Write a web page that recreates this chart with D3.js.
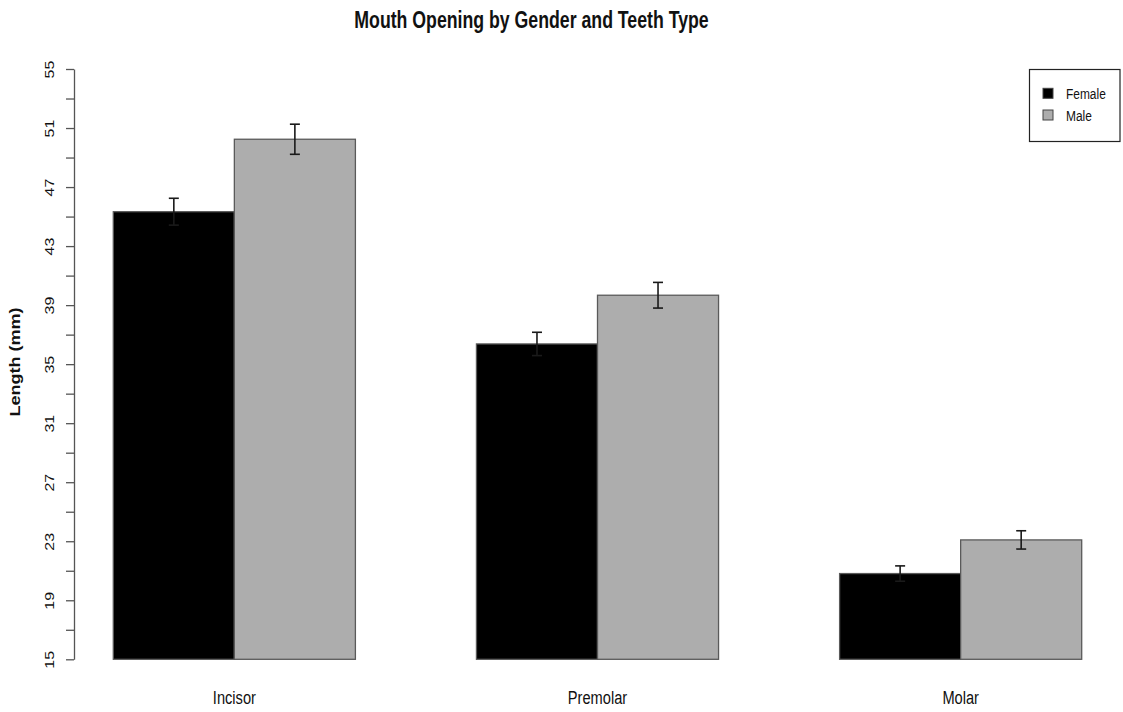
<!DOCTYPE html>
<html>
<head>
<meta charset="utf-8">
<script src="https://cdn.jsdelivr.net/npm/d3@7"></script>
<style>
  html, body { margin: 0; padding: 0; background: #fff; }
  svg { display: block; font-family: "Liberation Sans", Arial, sans-serif; }
</style>
</head>
<body>
<svg id="chart" width="1123" height="712"></svg>
<script>
// Mean mouth opening (mm) with standard errors, by teeth type and gender
const categories = ["Incisor", "Premolar", "Molar"];
const groups = ["Female", "Male"];
const femaleMeans = [45.33, 36.37, 20.81];
const femaleSE = [0.91, 0.79, 0.52];
const maleMeans = [50.24, 39.67, 23.09];
const maleSE = [1.02, 0.87, 0.62];
const yTickValues = d3.range(15, 56, 2);
const yTickLabels = yTickValues.map(v => (v - 15) % 4 === 0 ? String(v) : "");

const groupFill = { Female: "#000000", Male: "#adadad" };
const narrow = 0.77; // horizontal squeeze applied to all text

const svg = d3.select("#chart");

// Bars laid out like R's barplot(beside = TRUE): one bar-width gap before each group
const x = d3.scaleLinear().domain([1, 9]).range([113.3, 1081.7]);
const y = d3.scaleLinear().domain([15, 55]).range([659.3, 69]);

const bars = [];
categories.forEach((c, i) => {
  const left = 1 + i * 3;
  bars.push({ cat: c, g: "Female", x0: left, v: femaleMeans[i], se: femaleSE[i] });
  bars.push({ cat: c, g: "Male", x0: left + 1, v: maleMeans[i], se: maleSE[i] });
});

svg.append("g").selectAll("rect").data(bars).join("rect")
  .attr("x", d => x(d.x0))
  .attr("width", d => x(d.x0 + 1) - x(d.x0))
  .attr("y", d => y(d.v))
  .attr("height", d => y(15) - y(d.v))
  .attr("fill", d => groupFill[d.g])
  .attr("stroke", "#5a5a5a")
  .attr("stroke-width", 1.3);

// Error bars (mean ± SE)
const eb = svg.append("g").attr("stroke", "#1a1a1a").attr("stroke-width", 1.6);
bars.forEach(d => {
  const cx = x(d.x0 + 0.5);
  const cap = 5;
  eb.append("line").attr("x1", cx).attr("x2", cx).attr("y1", y(d.v - d.se)).attr("y2", y(d.v + d.se));
  eb.append("line").attr("x1", cx - cap).attr("x2", cx + cap).attr("y1", y(d.v + d.se)).attr("y2", y(d.v + d.se));
  eb.append("line").attr("x1", cx - cap).attr("x2", cx + cap).attr("y1", y(d.v - d.se)).attr("y2", y(d.v - d.se));
});

// Y axis with minor ticks every 2 mm, labels every 4 mm
const yAxis = d3.axisLeft(y)
  .tickValues(yTickValues)
  .tickFormat((v, i) => yTickLabels[i])
  .tickSize(8)
  .tickSizeOuter(0);
const ya = svg.append("g").attr("transform", "translate(74,0)").call(yAxis);
ya.select(".domain").attr("stroke", "#555").attr("stroke-width", 1.3);
ya.selectAll(".tick line").attr("stroke", "#555").attr("stroke-width", 1.3);
ya.selectAll(".tick text")
  .attr("x", null).attr("dy", null)
  .attr("transform", `translate(-20,0) scale(${narrow},1) rotate(-90)`)
  .attr("text-anchor", "middle")
  .attr("fill", "#111")
  .style("font-size", "16px")
  .style("font-family", "'Liberation Sans', Arial, sans-serif");

// Y axis title
svg.append("text")
  .attr("transform", `translate(20,362) scale(${narrow},1) rotate(-90)`)
  .attr("text-anchor", "middle")
  .attr("font-weight", "bold")
  .attr("font-size", 18)
  .attr("fill", "#111")
  .text("Length (mm)");

// Category labels under each group
svg.append("g").selectAll("text").data(categories).join("text")
  .attr("transform", (d, i) => `translate(${x(2 + i * 3)},704) scale(${narrow},1)`)
  .attr("text-anchor", "middle")
  .attr("font-size", 19)
  .attr("fill", "#111")
  .text(d => d);

// Title
svg.append("text")
  .attr("transform", `translate(531.5,28) scale(${narrow},1)`)
  .attr("text-anchor", "middle")
  .attr("font-weight", "bold")
  .attr("font-size", 23)
  .attr("fill", "#111")
  .text("Mouth Opening by Gender and Teeth Type");

// Legend
const lg = svg.append("g");
lg.append("rect")
  .attr("x", 1029.5).attr("y", 69.5).attr("width", 90.5).attr("height", 72)
  .attr("fill", "#fff").attr("stroke", "#222").attr("stroke-width", 1.2);
groups.forEach((g, i) => {
  const cy = 93.3 + i * 21.7;
  lg.append("rect")
    .attr("x", 1043).attr("y", cy - 5).attr("width", 10).attr("height", 10)
    .attr("fill", groupFill[g]).attr("stroke", "#444").attr("stroke-width", 1);
  lg.append("text")
    .attr("transform", `translate(1066,${cy + 5.5}) scale(${narrow},1)`)
    .attr("font-size", 15.5)
    .attr("fill", "#111")
    .text(g);
});
</script>
</body>
</html>
